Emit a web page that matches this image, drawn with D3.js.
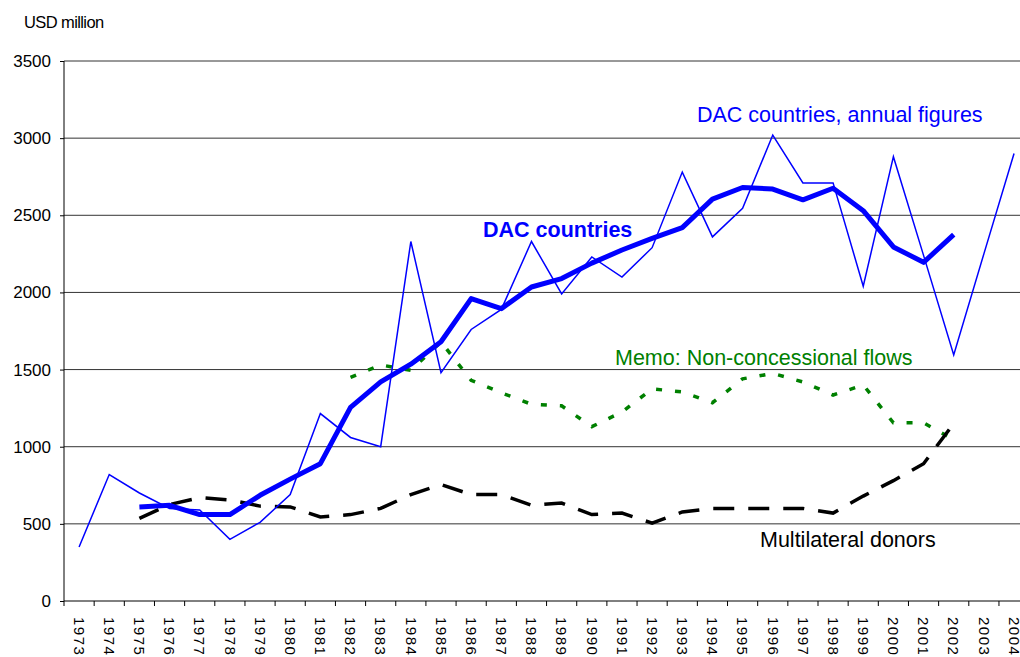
<!DOCTYPE html>
<html>
<head>
<meta charset="utf-8">
<script src="https://cdn.jsdelivr.net/npm/d3@7"></script>
<style>
  html, body { margin: 0; padding: 0; background: #fff; }
  svg { display: block; font-family: "Liberation Sans", Arial, sans-serif; }
</style>
</head>
<body>
<svg id="chart" width="1020" height="657"></svg>
<script>
const years = d3.range(1973, 2005);
const yTicks = [0, 500, 1000, 1500, 2000, 2500, 3000, 3500];

// DAC countries, annual figures (1973-2004)
const annual = [350, 820, 700, 600, 590, 400, 510, 690, 1215, 1060, 1000, 2330, 1480, 1760, 1890, 2330,
                1990, 2230, 2100, 2290, 2780, 2360, 2545, 3020, 2710, 2710, 2040, 2880, 2240, 1595, 2250, 2900];
// DAC countries (smoothed), 1975-2002
const dacYears = d3.range(1975, 2003);
const dac = [610, 620, 560, 560, 685, 790, 890, 1255, 1420, 1535, 1680, 1960, 1895, 2035, 2090, 2190,
             2275, 2350, 2420, 2605, 2680, 2670, 2600, 2675, 2530, 2295, 2195, 2375];
// Multilateral donors, 1975-2002
const multiYears = d3.range(1975, 2003);
const multilateral = [535, 625, 670, 655, 615, 610, 545, 560, 600, 690, 755, 690, 690, 620, 635, 560,
                      570, 505, 577, 600, 600, 600, 600, 570, 680, 780, 890, 1150];
// Memo: Non-concessional flows, 1982-2002
const memoYears = d3.range(1982, 2003);
const nonConcessional = [1450, 1530, 1495, 1680, 1430, 1350, 1275, 1265, 1130, 1225, 1375, 1355, 1285,
                         1440, 1475, 1420, 1335, 1400, 1155, 1155, 1045];

(function () {
const svg = d3.select("#chart");
const mLeft = 64, mTop = 61, mBottom = 601, band = 30.16;

const x = d3.scaleBand().domain(years).range([mLeft, mLeft + band * years.length]).padding(0);
const y = d3.scaleLinear().domain([0, 3500]).range([mBottom, mTop]);
const cx = d => x(d) + x.bandwidth() / 2;

// gridlines
svg.append("g").selectAll("line").data(yTicks.filter(v => v > 0)).join("line")
  .attr("x1", mLeft).attr("x2", 1020)
  .attr("y1", d => y(d)).attr("y2", d => y(d))
  .attr("stroke", "#333").attr("stroke-width", 1);

// y axis
const yAxis = svg.append("g").attr("transform", `translate(${mLeft},0)`)
  .call(d3.axisLeft(y).tickValues(yTicks).tickSize(4).tickPadding(9).tickFormat(d3.format("d")));
yAxis.select(".domain").attr("stroke", "#000").attr("d", `M0,${mTop}V${mBottom}`);
yAxis.selectAll(".tick line").attr("stroke", "#000");
yAxis.selectAll("text").attr("font-size", 17).attr("fill", "#000")
  .attr("font-family", "Liberation Sans, Arial, sans-serif");

// x axis
const xAxis = svg.append("g").attr("transform", `translate(0,${mBottom})`)
  .call(d3.axisBottom(x).tickSize(0).tickFormat(d => String(d)));
xAxis.select(".domain").attr("stroke", "#000").attr("d", `M${mLeft},0H1020`);
xAxis.selectAll("text")
  .attr("font-size", 15).attr("fill", "#000")
  .attr("font-family", "Liberation Sans, Arial, sans-serif")
  .attr("letter-spacing", "1.5px")
  .attr("text-anchor", "start")
  .attr("transform", "rotate(90)")
  .attr("x", 16).attr("y", 0).attr("dy", "0.35em");
// ticks at band edges
svg.append("g").selectAll("line").data(years).join("line")
  .attr("x1", d => x(d)).attr("x2", d => x(d))
  .attr("y1", mBottom).attr("y2", mBottom + 5)
  .attr("stroke", "#000");

function series(yrs, vals) { return yrs.map((yr, i) => ({ yr, v: vals[i] })); }
const line = d3.line().x(d => cx(d.yr)).y(d => y(d.v));

// Non-concessional (green dotted)
svg.append("path").datum(series(memoYears, nonConcessional))
  .attr("d", line).attr("fill", "none").attr("stroke", "#008000")
  .attr("stroke-width", 3.5).attr("stroke-dasharray", "6,13");

// Multilateral (black dashed)
svg.append("path").datum(series(multiYears, multilateral))
  .attr("d", line).attr("fill", "none").attr("stroke", "#000")
  .attr("stroke-width", 3.5).attr("stroke-dasharray", "21,14");

// Annual (thin blue)
svg.append("path").datum(series(years, annual))
  .attr("d", line).attr("fill", "none").attr("stroke", "#0000ff")
  .attr("stroke-width", 1.5).attr("stroke-linejoin", "miter");

// DAC countries (thick blue)
svg.append("path").datum(series(dacYears, dac))
  .attr("d", line).attr("fill", "none").attr("stroke", "#0000ff")
  .attr("stroke-width", 5).attr("stroke-linejoin", "round");

// annotations
const ann = svg.append("g").attr("font-family", "Liberation Sans, Arial, sans-serif");
ann.append("text").attr("x", 24).attr("y", 28).attr("font-size", 16.5).attr("fill", "#000")
  .attr("letter-spacing", "-0.6px").text("USD million");
ann.append("text").attr("x", 697).attr("y", 122).attr("font-size", 21.5).attr("fill", "#0000ff")
  .text("DAC countries, annual figures");
ann.append("text").attr("x", 483).attr("y", 237).attr("font-size", 21.5).attr("font-weight", "bold")
  .attr("fill", "#0000ff").text("DAC countries");
ann.append("text").attr("x", 615).attr("y", 365).attr("font-size", 21.5).attr("fill", "#008000")
  .text("Memo: Non-concessional flows");
ann.append("text").attr("x", 760).attr("y", 547).attr("font-size", 21.5).attr("fill", "#000")
  .text("Multilateral donors");
})();
</script>
</body>
</html>
